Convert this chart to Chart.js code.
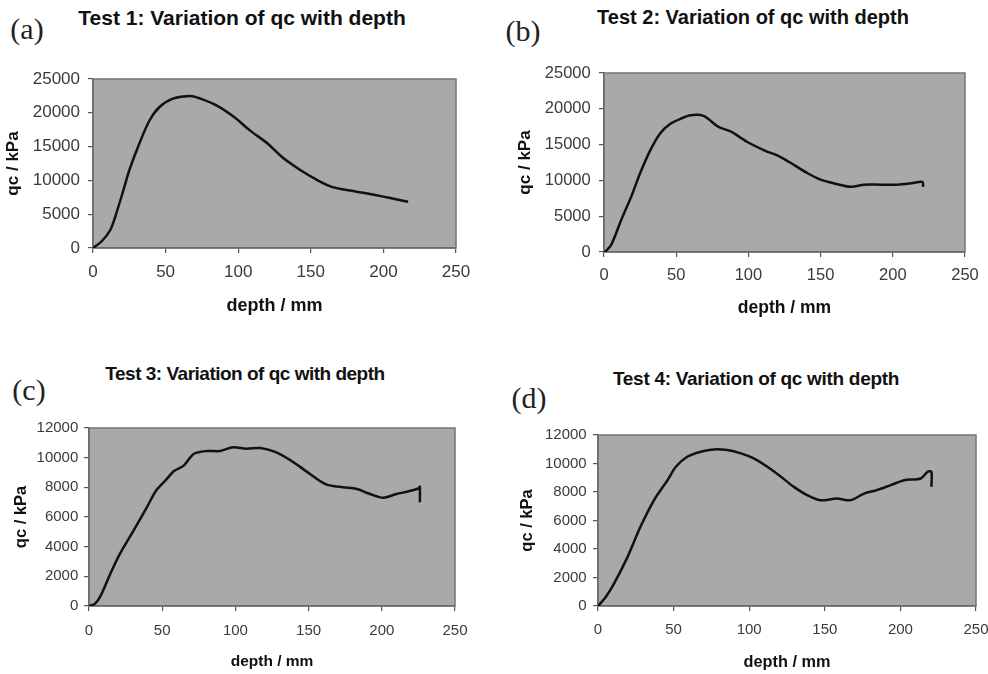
<!DOCTYPE html>
<html>
<head>
<meta charset="utf-8">
<title>Variation of qc with depth</title>
<script src="https://cdn.jsdelivr.net/npm/chart.js@4.4.1/dist/chart.umd.min.js"></script>
<style>
body { margin: 0; background: #fff; width: 988px; height: 674px; position: relative; overflow: hidden; font-family: "Liberation Sans", Arial, sans-serif; }
canvas { position: absolute; }
.ttl { position: absolute; transform: translate(-50%, -50%); font-weight: bold; white-space: nowrap; color: #111; }
.tag { position: absolute; transform: translate(-50%, -50%); font-family: "Liberation Serif", "Times New Roman", serif; font-size: 30px; color: #222; }
</style>
</head>
<body>
<div class="tag" style="left:27px;top:29px">(a)</div>
<div class="tag" style="left:523px;top:31px">(b)</div>
<div class="tag" style="left:29px;top:390px">(c)</div>
<div class="tag" style="left:529px;top:398px">(d)</div>
<div class="ttl" style="left:242px;top:18px;font-size:21px">Test 1: Variation of qc with depth</div>
<div class="ttl" style="left:753px;top:17px;font-size:20px">Test 2: Variation of qc with depth</div>
<div class="ttl" style="left:245px;top:374px;font-size:19px;letter-spacing:-0.5px">Test 3: Variation of qc with depth</div>
<div class="ttl" style="left:756px;top:379px;font-size:19px;letter-spacing:-0.3px">Test 4: Variation of qc with depth</div>
<canvas id="c1" width="494" height="337" style="left:0;top:0"></canvas>
<canvas id="c2" width="494" height="337" style="left:494px;top:0"></canvas>
<canvas id="c3" width="494" height="337" style="left:0;top:337px"></canvas>
<canvas id="c4" width="494" height="337" style="left:494px;top:337px"></canvas>
<script>
// values (depth in mm, qc in kPa)
var depth1 = [0, 6, 12, 16, 21, 25, 32, 39, 46, 55, 67, 74, 85, 97, 108, 120, 131, 143, 154, 165, 177, 188, 200, 211, 217];
var qc1 = [0, 1000, 2700, 5100, 8600, 11500, 15500, 18900, 20900, 22100, 22500, 22100, 21100, 19400, 17400, 15500, 13300, 11500, 10100, 9000, 8500, 8100, 7600, 7100, 6850];

var depth2 = [0, 1, 5, 12, 19, 25, 32, 39, 46, 53, 60, 69, 79, 88, 99, 111, 122, 132, 141, 150, 159, 171, 180, 192, 203, 213, 220.5, 221];
var qc2 = [0, 90, 1000, 4500, 7800, 11000, 14200, 16600, 17900, 18600, 19100, 19000, 17500, 16800, 15400, 14200, 13300, 12100, 11000, 10100, 9600, 9100, 9400, 9400, 9400, 9600, 9800, 9100];

var depth3 = [0, 4, 8, 14.5, 21, 30.5, 39.5, 46, 53, 58, 64.5, 71.5, 80.5, 89.5, 98.5, 107.5, 117, 128, 139.5, 151, 162, 173.5, 182.5, 192, 201, 210, 219, 225.5, 226, 226];
var qc3 = [0, 140, 700, 2160, 3500, 5100, 6650, 7800, 8550, 9100, 9450, 10250, 10450, 10450, 10700, 10600, 10650, 10350, 9700, 8900, 8200, 8000, 7900, 7550, 7300, 7550, 7750, 7950, 8050, 7000];

var depth4 = [0, 5, 10.5, 19.5, 28, 37, 46, 51.5, 59, 68, 76.5, 85.5, 94.5, 103, 112, 121, 129.5, 138.5, 147, 158, 167, 176, 184.5, 193.5, 202.5, 213.5, 218, 220.5, 220.5];
var qc4 = [0, 610, 1550, 3430, 5540, 7420, 8830, 9770, 10470, 10830, 10990, 10940, 10710, 10360, 9770, 9070, 8360, 7770, 7420, 7540, 7420, 7890, 8130, 8480, 8830, 8950, 9420, 9420, 8360];

var depthTicks = {min: 0, max: 250, step: 50};
var qcTicksHigh = {min: 0, max: 25000, step: 5000};
var qcTicksLow = {min: 0, max: 12000, step: 2000};

var xTitle = 'depth / mm';
var yTitle = 'qc / kPa';

var FONT = '"Liberation Sans", Arial, sans-serif';

// grey plot area with a frame, like the spreadsheet charts
var plotBg = {
    id: 'plotBg',
    beforeDraw: function (chart) {
        var a = chart.chartArea;
        var ctx = chart.ctx;
        ctx.save();
        ctx.fillStyle = '#a9a9a9';
        ctx.fillRect(a.left, a.top, a.right - a.left, a.bottom - a.top);
        ctx.restore();
    },
    beforeDatasetsDraw: function (chart) {
        var a = chart.chartArea;
        var ctx = chart.ctx;
        ctx.save();
        ctx.strokeStyle = '#747474';
        ctx.lineWidth = 1.5;
        ctx.strokeRect(a.left, a.top, a.right - a.left, a.bottom - a.top);
        ctx.restore();
    }
};

function plain(v) {
    return String(v);
}

function makeChart(id, depth, qc, yRange, o) {
    var pts = [];
    for (var i = 0; i < depth.length; i++) {
        pts.push({x: depth[i], y: qc[i]});
    }
    return new Chart(document.getElementById(id), {
        type: 'scatter',
        data: {
            datasets: [{
                data: pts,
                showLine: true,
                borderColor: '#111',
                borderWidth: 2.5,
                pointRadius: 0,
                tension: 0.3,
                fill: false
            }]
        },
        options: {
            responsive: false,
            animation: false,
            layout: {padding: {top: o.top, right: o.right, left: 0, bottom: 0}},
            plugins: {legend: {display: false}, tooltip: {enabled: false}},
            scales: {
                x: {
                    type: 'linear',
                    min: depthTicks.min,
                    max: depthTicks.max,
                    afterFit: function (s) { s.height = o.xh; s.paddingLeft = 0; s.paddingRight = 0; },
                    ticks: {stepSize: depthTicks.step, callback: plain, color: '#3a3a3a', padding: o.xPad, font: {family: FONT, size: o.tick}},
                    grid: {drawOnChartArea: false, drawTicks: true, tickLength: 5, color: '#555', lineWidth: 1.2},
                    border: {display: true, color: '#505050', width: 1.5},
                    title: {display: true, text: xTitle, color: '#111', padding: {top: 0, bottom: o.xtPad}, font: {family: FONT, size: o.xt, weight: 'bold'}}
                },
                y: {
                    type: 'linear',
                    min: yRange.min,
                    max: yRange.max,
                    afterFit: function (s) { s.width = o.yw; s.paddingTop = 0; s.paddingBottom = 0; },
                    ticks: {stepSize: yRange.step, callback: plain, color: '#3a3a3a', padding: o.yPad, font: {family: FONT, size: o.tick}},
                    grid: {drawOnChartArea: false, drawTicks: true, tickLength: 5, color: '#555', lineWidth: 1.2},
                    border: {display: true, color: '#505050', width: 1.5},
                    title: {display: true, text: yTitle, color: '#111', padding: {top: o.ytPad, bottom: 0}, font: {family: FONT, size: o.yt, weight: 'bold'}}
                }
            }
        },
        plugins: [plotBg]
    });
}

makeChart('c1', depth1, qc1, qcTicksHigh, {top: 79, right: 38, yw: 93, xh: 89, tick: 17, xPad: 9.5, yPad: 8, xt: 18, xtPad: 20, yt: 17, ytPad: 3});
makeChart('c2', depth2, qc2, qcTicksHigh, {top: 73, right: 23, yw: 110, xh: 85, tick: 16.5, xPad: 9, yPad: 8.3, xt: 17.5, xtPad: 18, yt: 17, ytPad: 21.5});
makeChart('c3', depth3, qc3, qcTicksLow, {top: 91, right: 39, yw: 89, xh: 68, tick: 15, xPad: 11, yPad: 5.7, xt: 15.5, xtPad: 2.7, yt: 16.5, ytPad: 11.8});
makeChart('c4', depth4, qc4, qcTicksLow, {top: 98, right: 12, yw: 104, xh: 68, tick: 15, xPad: 10.3, yPad: 6.3, xt: 16.3, xtPad: 2.2, yt: 16.5, ytPad: 23.4});
</script>
</body>
</html>
